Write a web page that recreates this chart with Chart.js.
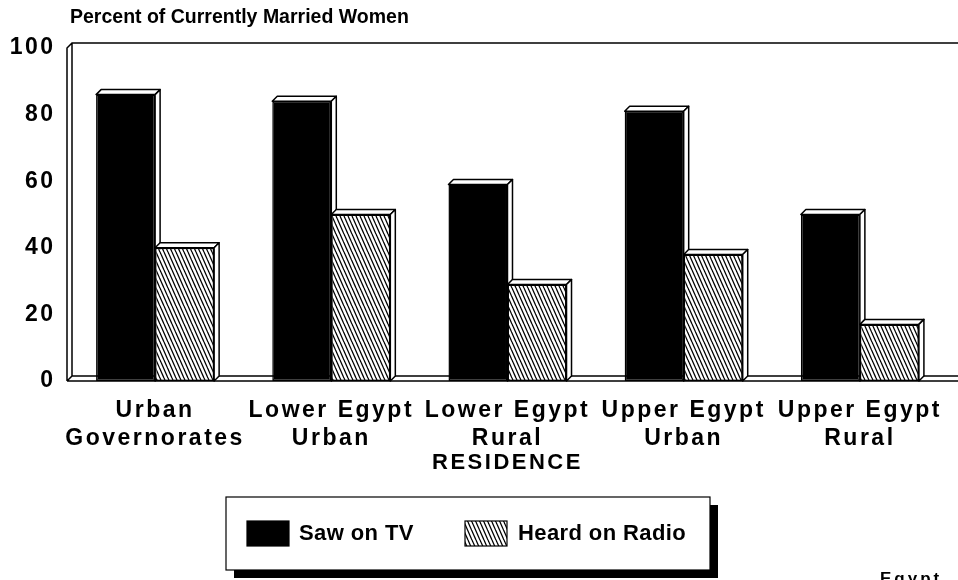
<!DOCTYPE html>
<html>
<head>
<meta charset="utf-8">
<script src="https://cdn.jsdelivr.net/npm/chart.js@4/dist/chart.umd.min.js"></script>
<style>
  html, body { margin: 0; padding: 0; background: #fff; }
  canvas { display: block; }
</style>
</head>
<body>
<canvas id="chart" width="958" height="580"></canvas>
<script>
const categories = [
  ['Urban', 'Governorates'],
  ['Lower Egypt', 'Urban'],
  ['Lower Egypt', 'Rural'],
  ['Upper Egypt', 'Urban'],
  ['Upper Egypt', 'Rural']
];
const sawOnTv = [86, 84, 59, 81, 50];
const heardOnRadio = [40, 50, 29, 38, 17];
const yTicks = [0, 20, 40, 60, 80, 100];
const seriesLabels = ['Saw on TV', 'Heard on Radio'];
const chartTitle = 'Percent of Currently Married Women';
const axisTitle = 'RESIDENCE';
const cornerNote = 'Egypt';

const FONT = '"Liberation Sans", Arial, Helvetica, sans-serif';
const DEPTH = 5;
const TICK_SPACING = '2.5px';

// diagonal hatch like the old plotter fill
function makeHatch(){
  const c = document.createElement('canvas');
  c.width = 8; c.height = 18;
  const g = c.getContext('2d');
  g.fillStyle = '#fff';
  g.fillRect(0, 0, 8, 18);
  g.strokeStyle = '#000';
  g.lineWidth = 1.3;
  for (let x0 = -8; x0 <= 8; x0 += 4){
    g.beginPath(); g.moveTo(x0, 0); g.lineTo(x0 + 8, 18); g.stroke();
  }
  return g.createPattern(c, 'repeat');
}
const hatch = makeHatch();

// wide letter spacing for the axis text
const spacingPlugin = {
  id: 'spacing',
  beforeUpdate(chart){ chart.ctx.letterSpacing = TICK_SPACING; },
  beforeDraw(chart){
    const ctx = chart.ctx;
    ctx.save();
    ctx.fillStyle = '#fff';
    ctx.fillRect(0, 0, chart.width, chart.height);
    ctx.restore();
    ctx.letterSpacing = TICK_SPACING;
  }
};

// back wall + floor of the 3D frame
const framePlugin = {
  id: 'frame',
  beforeDatasetsDraw(chart){
    const {ctx, chartArea: a} = chart;
    const d = DEPTH;
    ctx.save();
    ctx.strokeStyle = '#000';
    ctx.lineWidth = 1.5;
    ctx.beginPath();
    ctx.moveTo(a.left, a.bottom); ctx.lineTo(a.left, a.top);
    ctx.lineTo(a.left + d, a.top - d); ctx.lineTo(chart.width, a.top - d);
    ctx.moveTo(a.left + d, a.top - d); ctx.lineTo(a.left + d, a.bottom - d);
    ctx.lineTo(chart.width, a.bottom - d);
    ctx.moveTo(a.left, a.bottom); ctx.lineTo(a.left + d, a.bottom - d);
    ctx.moveTo(a.left, a.bottom); ctx.lineTo(chart.width, a.bottom);
    ctx.stroke();
    ctx.restore();
  }
};

function drawFaces(ctx, el){
  const d = DEPTH;
  const {x, y, base, width} = el.getProps(['x', 'y', 'base', 'width'], true);
  const l = x - width / 2, r = x + width / 2;
  ctx.beginPath();
  ctx.moveTo(l, y); ctx.lineTo(l + d, y - d); ctx.lineTo(r + d, y - d); ctx.lineTo(r, y);
  ctx.closePath(); ctx.fill(); ctx.stroke();
  ctx.beginPath();
  ctx.moveTo(r, y); ctx.lineTo(r + d, y - d); ctx.lineTo(r + d, base - d); ctx.lineTo(r, base);
  ctx.closePath(); ctx.fill(); ctx.stroke();
}

// top and side faces of every bar; radio bars sit in front of the TV faces
const blockPlugin = {
  id: 'blocks',
  afterDatasetsDraw(chart){
    const ctx = chart.ctx;
    const tv = chart.getDatasetMeta(0), radio = chart.getDatasetMeta(1);
    ctx.save();
    ctx.fillStyle = '#fff';
    ctx.strokeStyle = '#000';
    ctx.lineWidth = 1.5;
    ctx.lineJoin = 'round';
    tv.data.forEach(el => drawFaces(ctx, el));
    ctx.restore();
    radio.data.forEach(el => el.draw(ctx, chart.chartArea));
    ctx.save();
    ctx.fillStyle = '#fff';
    ctx.strokeStyle = '#000';
    ctx.lineWidth = 1.5;
    ctx.lineJoin = 'round';
    radio.data.forEach(el => drawFaces(ctx, el));
    ctx.restore();
  }
};

// title, boxed legend with shadow, corner note
const textPlugin = {
  id: 'texts',
  afterDraw(chart){
    const ctx = chart.ctx;
    ctx.save();
    ctx.letterSpacing = '0px';
    ctx.fillStyle = '#000';
    ctx.textBaseline = 'middle';
    ctx.textAlign = 'left';
    ctx.font = 'bold 19.5px ' + FONT;
    ctx.fillText(chartTitle, 70, 18);

    // legend box
    const bx = 226, by = 497, bw = 484, bh = 73, sh = 8;
    ctx.fillRect(bx + sh, by + sh, bw, bh);
    ctx.fillStyle = '#fff';
    ctx.fillRect(bx, by, bw, bh);
    ctx.strokeStyle = '#000';
    ctx.lineWidth = 1.2;
    ctx.strokeRect(bx, by, bw, bh);

    const ds = chart.data.datasets;
    const items = [{sx: 247, tx: 299}, {sx: 465, tx: 518}];
    ctx.font = 'bold 22px ' + FONT;
    ctx.letterSpacing = '0.4px';
    items.forEach((it, i) => {
      ctx.fillStyle = ds[i].backgroundColor;
      ctx.fillRect(it.sx, 521, 42, 25);
      ctx.strokeRect(it.sx, 521, 42, 25);
      ctx.fillStyle = '#000';
      ctx.fillText(ds[i].label, it.tx, 534);
    });

    ctx.font = 'bold 17px ' + FONT;
    ctx.letterSpacing = '3px';
    ctx.textBaseline = 'alphabetic';
    ctx.fillText(cornerNote, 880, 584);
    ctx.restore();
  }
};

new Chart(document.getElementById('chart'), {
  type: 'bar',
  data: {
    labels: categories,
    datasets: [
      {label: seriesLabels[0], data: sawOnTv, backgroundColor: '#000', borderColor: '#000', borderWidth: 1.5},
      {label: seriesLabels[1], data: heardOnRadio, backgroundColor: hatch, borderColor: '#000', borderWidth: 1.5}
    ]
  },
  options: {
    responsive: false,
    animation: false,
    devicePixelRatio: 1,
    layout: {padding: {top: 48, left: 0, right: 0, bottom: 0}},
    datasets: {bar: {barPercentage: 1, categoryPercentage: 0.67, borderSkipped: false}},
    plugins: {legend: {display: false}, title: {display: false}, tooltip: {enabled: false}},
    scales: {
      x: {
        grid: {display: false, drawTicks: false},
        border: {display: false},
        ticks: {color: '#000', padding: 16, maxRotation: 0, autoSkip: false,
          font: {family: FONT, size: 23, weight: 'bold', lineHeight: 1.2}},
        title: {display: true, text: axisTitle, color: '#000', padding: {top: 0, bottom: 104},
          font: {family: FONT, size: 22, weight: 'bold', lineHeight: 1.2}},
        afterFit(s){ s.height = 199; }
      },
      y: {
        min: 0, max: 100,
        grid: {display: false, drawTicks: false},
        border: {display: false},
        afterBuildTicks(s){ s.ticks = yTicks.map(v => ({value: v})); },
        ticks: {color: '#000', padding: 11.5,
          font: {family: FONT, size: 23, weight: 'bold'}},
        afterFit(s){ s.width = 67; }
      }
    }
  },
  plugins: [spacingPlugin, framePlugin, blockPlugin, textPlugin]
});
</script>
</body>
</html>
